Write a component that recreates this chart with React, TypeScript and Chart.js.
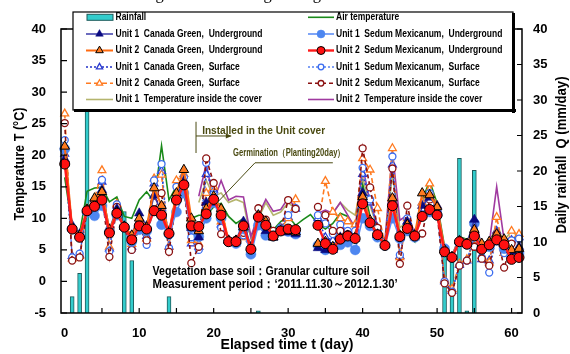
import React, { useEffect, useRef } from 'react';
import { Chart, registerables } from 'chart.js';

Chart.register(...registerables);

const FONT = "'Liberation Sans', Arial, Helvetica, sans-serif";

// ---------- data ----------
const days = [0,1,2,3,4,5,6,7,8,9,10,11,12,13,14,15,16,17,18,19,20,21,22,23,24,25,26,27,28,29,30,31,32,33,34,35,36,37,38,39,40,41,42,43,44,45,46,47,48,49,50,51,52,53,54,55,56,57,58,59,60,61];
const dayTickLabels = [0,10,20,30,40,50,60];
const dayMinorTicks = [5,10,15,20,25,30,35,40,45,50,55,60];
const tempTicks = [-5,0,5,10,15,20,25,30,35,40];
const rainTicks = [0,5,10,15,20,25,30,35,40];

const rainfall = [null,2.3,5.6,35,null,null,null,null,14.3,7.4,null,null,null,null,2.3,null,null,null,null,null,null,null,null,null,null,null,0.3,null,null,null,null,null,null,null,null,null,null,null,null,null,null,null,null,null,null,null,null,null,null,null,null,8.6,8.0,21.8,0.3,20.1,null,null,null,null,null,null];

const airTemp = [16.5,8.6,7.6,14.3,14.8,14.9,12.6,13.4,10.3,10.0,12.9,14.2,12.6,21.5,12.9,15.1,13.5,10.0,10.5,10.5,11.8,12.4,10.3,9.2,10.0,7.3,8.9,9.8,8.2,9.5,10.3,8.9,9.8,10.6,9.1,8.3,9.2,10.8,10.3,8.4,15.5,10.3,7.6,6.0,12.4,7.9,7.6,6.3,12.9,15.9,12.4,5.5,4.0,7.1,6.7,7.5,6.0,6.5,7.6,6.4,6.5,7.4];

const u1CanadaUnder = [19.4,8.9,7.5,11.3,13.0,14.5,8.3,11.5,8.8,7.3,10.8,8.8,13.6,11.0,8.0,13.5,16.0,8.5,7.0,12.5,12.5,11.0,6.5,6.5,9.5,5.5,10.5,8.0,7.0,7.8,7.8,7.5,null,null,5.3,5.0,5.0,7.0,7.3,6.8,14.0,9.5,7.5,5.8,12.5,7.0,9.5,7.5,12.0,13.3,12.0,5.0,3.9,6.5,6.0,9.8,5.8,6.0,7.5,6.5,4.8,5.5];

const u2CanadaUnder = [21.4,8.5,7.3,11.4,13.2,14.2,8.2,11.0,8.7,7.3,10.0,8.6,14.8,12.0,7.8,14.0,17.7,10.0,8.0,11.5,13.5,11.5,6.5,6.5,8.6,5.3,10.5,9.5,7.0,8.0,8.0,7.8,null,null,6.0,6.3,5.5,6.8,7.2,7.0,13.4,9.7,7.4,5.8,13.2,7.3,9.0,7.3,14.0,13.7,11.8,5.0,3.9,6.4,6.0,8.2,6.0,6.3,7.5,6.7,5.0,5.2];

const u1SedumUnder = [21.0,8.3,7.2,11.0,10.4,12.0,7.9,10.5,8.6,6.3,8.2,8.0,11.2,9.0,7.5,11.0,14.0,8.5,7.1,10.0,12.5,10.0,6.3,6.0,8.3,4.3,8.9,7.3,7.2,8.1,7.9,7.5,null,null,5.7,5.0,5.3,5.8,6.2,5.0,10.0,8.8,7.0,5.7,10.0,6.8,8.0,7.0,10.5,11.0,10.5,5.2,3.8,6.2,5.9,9.2,5.2,5.5,6.5,5.2,4.0,4.5];

const u2SedumUnder = [18.6,8.3,7.0,11.2,11.9,12.9,7.7,10.8,8.6,6.6,8.8,8.3,11.2,10.5,7.6,12.9,15.3,8.8,8.7,10.7,13.0,10.5,6.3,6.3,8.8,5.1,10.2,8.9,7.2,8.0,8.3,8.2,null,null,8.9,6.0,5.1,6.7,7.2,6.8,12.3,9.3,7.4,5.7,12.0,7.1,8.4,7.2,10.3,11.4,10.5,4.7,3.8,6.3,5.9,7.2,5.1,5.8,6.6,5.8,3.5,3.8];

const u1CanadaSurf = [20.2,4.0,4.2,11.0,12.5,15.8,5.2,12.0,8.6,5.5,9.2,7.2,15.5,17.5,5.5,13.5,16.0,6.0,5.5,17.0,14.5,9.0,6.5,6.2,9.2,5.5,9.0,8.5,7.0,8.5,10.2,11.5,null,null,10.0,7.0,6.5,8.5,7.5,7.9,17.0,12.5,8.5,5.8,18.5,4.0,9.5,7.0,12.5,13.0,11.5,0.0,-1.5,2.6,3.3,7.0,3.5,3.3,8.0,4.5,6.5,7.0];

const u2CanadaSurf = [26.6,3.6,4.0,11.5,13.0,17.6,5.5,12.3,8.6,5.9,9.5,6.8,16.3,16.9,5.5,16.0,17.0,6.5,6.0,14.0,15.0,9.5,6.5,6.0,7.0,5.5,9.3,8.0,7.8,8.4,10.0,13.0,null,null,8.8,15.9,11.0,10.0,9.5,9.0,19.5,17.7,11.6,5.7,21.1,3.8,10.0,7.0,12.5,15.5,12.0,0.3,-1.2,2.8,3.5,6.5,4.0,3.0,10.2,4.5,8.0,7.5];

const u1SedumSurf = [22.4,3.8,4.4,11.2,12.2,16.1,4.8,12.2,8.6,5.0,9.0,5.8,16.0,18.6,5.3,15.0,16.5,7.0,5.0,18.8,13.8,8.5,6.4,6.3,7.3,5.0,9.6,8.6,7.6,8.5,10.5,11.6,null,null,10.5,9.2,7.5,9.0,8.0,8.0,18.0,13.0,8.0,5.7,19.8,4.2,10.0,7.3,11.5,14.0,11.0,0.0,-1.6,2.5,3.3,7.0,3.8,1.4,7.5,4.5,6.5,6.8];

const u2SedumSurf = [25.1,3.3,3.8,11.3,12.0,14.0,3.9,11.8,8.6,5.0,8.6,6.5,12.5,14.0,4.7,13.0,15.5,2.9,5.5,19.5,15.6,7.5,6.3,6.6,7.7,5.5,11.6,9.8,8.0,8.2,12.9,11.5,null,null,11.8,10.5,8.0,8.0,7.5,7.0,21.1,14.9,8.5,5.9,17.9,2.8,12.0,7.0,7.6,13.0,10.8,-0.3,-1.8,2.5,3.3,5.5,3.6,2.5,7.5,2.2,6.0,5.0];

const u1Inside = [null,null,null,null,null,null,null,null,null,null,null,null,null,null,null,null,null,null,12.5,16.0,13.5,14.0,12.5,13.0,12.5,6.8,10.0,12.5,10.5,11.0,12.5,11.5,null,null,10.0,10.8,10.8,12.5,11.3,10.5,16.5,12.0,8.5,6.0,17.0,8.5,9.5,7.0,12.5,14.5,12.0,5.2,4.2,7.0,6.5,8.0,5.5,6.5,8.5,6.5,8.0,7.0];

const u2Inside = [null,null,null,null,null,null,null,null,null,null,null,null,null,null,null,null,null,null,13.5,18.6,12.8,16.0,12.9,13.5,13.4,7.1,10.5,13.0,11.1,11.4,13.2,11.6,null,null,10.8,11.3,10.8,12.5,10.5,8.5,18.3,12.5,8.9,6.5,20.5,9.7,10.5,7.6,12.0,14.0,11.5,5.0,4.0,7.0,6.5,7.5,5.5,6.0,15.0,6.5,7.0,6.5];

// annotation anchors (in data units)
const installedDay = 17.63;
const installedTopT = 25.3;
const installedBottomT = 20.35;
const installedArrowT = 23.05;
const installedArrowEndDay = 22.3;
const installedTextDay = 18.45;
const installedTextT = 23.9;
const germLeaderFrom = { day: 20.4, t: 12.4 };
const germLeaderTo = { day: 25.55, t: 18.8 };
const germUnderlineEndDay = 36.0;
const germTextDay = 22.6;
const germTextT = 20.3;
const soilTextDay = 11.8;
const soilTextT1 = 1.55;
const soilTextT2 = -0.4;

const mk = (vals: (number | null)[]) => vals.map((v, i) => ({ x: days[i], y: v }));

type Marker = { style: 'circle' | 'triangle' | null; r: number; fill: string; stroke: string; lw: number };

function drawMarker(ctx: CanvasRenderingContext2D, m: Marker, x: number, y: number) {
  if (!m.style) return;
  ctx.beginPath();
  if (m.style === 'circle') {
    ctx.arc(x, y, m.r, 0, Math.PI * 2);
  } else {
    let a = 0;
    ctx.moveTo(x + Math.sin(a) * m.r, y - Math.cos(a) * m.r);
    a += (2 * Math.PI) / 3;
    ctx.lineTo(x + Math.sin(a) * m.r, y - Math.cos(a) * m.r);
    a += (2 * Math.PI) / 3;
    ctx.lineTo(x + Math.sin(a) * m.r, y - Math.cos(a) * m.r);
    ctx.closePath();
  }
  ctx.fillStyle = m.fill;
  ctx.fill();
  if (m.lw > 0) {
    ctx.setLineDash([]);
    ctx.lineWidth = m.lw;
    ctx.strokeStyle = m.stroke;
    ctx.stroke();
  }
}

function fitText(ctx: CanvasRenderingContext2D, text: string, x: number, y: number, width: number, font: string, color: string, align: CanvasTextAlign = 'left', rotate = 0) {
  ctx.save();
  ctx.font = font;
  ctx.fillStyle = color;
  ctx.textBaseline = 'middle';
  ctx.textAlign = align;
  const w = ctx.measureText(text).width;
  const s = width / w;
  ctx.translate(x, y);
  if (rotate) ctx.rotate(rotate);
  ctx.scale(s, 1);
  ctx.fillText(text, 0, 0);
  ctx.restore();
}

type SeriesStyle = { key: string; label: string; color: string; width: number; dash: number[]; marker: Marker };

const S: Record<string, SeriesStyle> = {
  air: { key: 'air', label: 'Air temperature', color: '#1a8a1a', width: 1.6, dash: [], marker: { style: null, r: 0, fill: '', stroke: '', lw: 0 } },
  u1cu: { key: 'u1cu', label: 'Unit 1  Canada Green,  Underground', color: '#3a3aa8', width: 1.5, dash: [], marker: { style: 'triangle', r: 5.5, fill: '#0a0a80', stroke: '#0a0a80', lw: 0.5 } },
  u2cu: { key: 'u2cu', label: 'Unit 2  Canada Green,  Underground', color: '#ff6a10', width: 2, dash: [], marker: { style: 'triangle', r: 5.5, fill: '#ff7a20', stroke: '#000', lw: 1 } },
  u1su: { key: 'u1su', label: 'Unit 1  Sedum Mexicanum,  Underground', color: '#5f8ff5', width: 1.6, dash: [], marker: { style: 'circle', r: 5, fill: '#4d86f0', stroke: '#4d86f0', lw: 0.5 } },
  u2su: { key: 'u2su', label: 'Unit 2  Sedum Mexicanum,  Underground', color: '#ff1a1a', width: 2.4, dash: [], marker: { style: 'circle', r: 5, fill: '#ff1010', stroke: '#000', lw: 1 } },
  u1cs: { key: 'u1cs', label: 'Unit 1  Canada Green,  Surface', color: '#2030c8', width: 1.3, dash: [2, 2], marker: { style: 'triangle', r: 4.5, fill: '#fff', stroke: '#2a3ad0', lw: 1.3 } },
  u2cs: { key: 'u2cs', label: 'Unit 2  Canada Green,  Surface', color: '#ff7a20', width: 1.6, dash: [5, 3], marker: { style: 'triangle', r: 4.5, fill: '#fff', stroke: '#ff7a20', lw: 1.3 } },
  u1ss: { key: 'u1ss', label: 'Unit 1  Sedum Mexicanum,  Surface', color: '#3a6cf0', width: 1.3, dash: [2, 2], marker: { style: 'circle', r: 3.5, fill: '#fff', stroke: '#3a6cf0', lw: 1.3 } },
  u2ss: { key: 'u2ss', label: 'Unit 2  Sedum Mexicanum,  Surface', color: '#8a1010', width: 1.6, dash: [4, 3], marker: { style: 'circle', r: 3.5, fill: '#fff', stroke: '#8a1010', lw: 1.3 } },
  in1: { key: 'in1', label: 'Unit 1  Temperature inside the cover', color: '#b5b56e', width: 1.6, dash: [], marker: { style: null, r: 0, fill: '', stroke: '', lw: 0 } },
  in2: { key: 'in2', label: 'Unit 2  Temperature inside the cover', color: '#a03aa0', width: 1.6, dash: [], marker: { style: null, r: 0, fill: '', stroke: '', lw: 0 } },
};

const RAIN_FILL = '#33cccc';
const RAIN_EDGE = '#1d5a5a';
const ANNOT = '#4a4a12';

function lineDs(st: SeriesStyle, vals: (number | null)[], order: number) {
  return {
    type: 'line' as const,
    label: st.label,
    data: mk(vals),
    yAxisID: 'y',
    borderColor: st.color,
    borderWidth: st.width,
    borderDash: st.dash,
    pointStyle: st.marker.style || 'circle',
    pointRadius: st.marker.style ? st.marker.r : 0,
    pointBackgroundColor: st.marker.fill,
    pointBorderColor: st.marker.stroke,
    pointBorderWidth: st.marker.lw,
    tension: 0,
    spanGaps: false,
    clip: false as any,
    order,
  };
}

const overlayPlugin = {
  id: 'overlay',
  afterDraw(chart: any) {
    const ctx: CanvasRenderingContext2D = chart.ctx;
    const xs = chart.scales.x;
    const yT = chart.scales.y;
    const yR = chart.scales.y2;
    const { left, right, top, bottom } = chart.chartArea;
    const px = (d: number) => xs.getPixelForValue(d);
    const py = (t: number) => yT.getPixelForValue(t);

    ctx.save();
    // top cropped caption from the page
    ctx.save();
    ctx.beginPath();
    ctx.rect(0, 0, 570, 8);
    ctx.clip();
    fitText(ctx, 'water content of ground soils etc greening.', 45, -5, 280, "17px 'Liberation Serif', 'Times New Roman', serif", '#000', 'left');
    ctx.restore();

    // plot frame
    ctx.strokeStyle = '#000';
    ctx.lineWidth = 1.5;
    ctx.setLineDash([]);
    ctx.strokeRect(left, top, right - left, bottom - top);
    ctx.lineWidth = 1.2;
    ctx.beginPath();
    tempTicks.forEach((v) => { const y = py(v); ctx.moveTo(left, y); ctx.lineTo(left + 6, y); });
    rainTicks.forEach((v) => { const y = yR.getPixelForValue(v); ctx.moveTo(right - 5, y); ctx.lineTo(right, y); });
    dayMinorTicks.forEach((v) => { const x = px(v); ctx.moveTo(x, bottom); ctx.lineTo(x, bottom - 5); });
    ctx.stroke();

    // annotation: installed in the unit cover
    ctx.strokeStyle = ANNOT;
    ctx.lineWidth = 1;
    ctx.beginPath();
    ctx.moveTo(px(installedDay), py(installedTopT));
    ctx.lineTo(px(installedDay), py(installedBottomT));
    ctx.moveTo(px(installedDay), py(installedArrowT));
    ctx.lineTo(px(installedArrowEndDay), py(installedArrowT));
    ctx.stroke();
    const ax = px(installedArrowEndDay), ay = py(installedArrowT);
    ctx.beginPath();
    ctx.moveTo(ax + 1, ay);
    ctx.lineTo(ax - 5, ay - 2.5);
    ctx.lineTo(ax - 5, ay + 2.5);
    ctx.closePath();
    ctx.fillStyle = ANNOT;
    ctx.fill();
    fitText(ctx, 'Installed in the Unit cover', px(installedTextDay), py(installedTextT), 123, `bold 11px ${FONT}`, ANNOT, 'left');

    // annotation: germination
    ctx.beginPath();
    ctx.moveTo(px(germLeaderFrom.day), py(germLeaderFrom.t));
    ctx.lineTo(px(germLeaderTo.day), py(germLeaderTo.t));
    ctx.lineTo(px(germUnderlineEndDay), py(germLeaderTo.t));
    ctx.stroke();
    fitText(ctx, 'Germination（Planting20day）', px(germTextDay), py(germTextT), 112, `bold 10px ${FONT}`, ANNOT, 'left');

    // soil text
    fitText(ctx, 'Vegetation base soil：Granular culture soil', px(soilTextDay), py(soilTextT1), 217, `bold 13px ${FONT}`, '#000', 'left');
    fitText(ctx, 'Measurement period：‘2011.11.30～2012.1.30’', px(soilTextDay), py(soilTextT2), 245, `bold 13px ${FONT}`, '#000', 'left');

    // legend box
    const lx = 73, ly = 12, lw = 440, lh = 98;
    ctx.fillStyle = '#fff';
    ctx.fillRect(lx, ly, lw, lh);
    ctx.strokeStyle = '#000';
    ctx.lineWidth = 1.2;
    ctx.strokeRect(lx, ly, lw, lh);
    ctx.fillStyle = '#000';
    ctx.fillRect(lx + lw - 1, ly + 1, 3, lh + 2);
    ctx.fillRect(lx + 1, ly + lh - 1, lw + 2, 3);

    const rows = [17.3, 34.0, 50.5, 67.0, 83.3, 99.5];
    const legendFont = `bold 10px ${FONT}`;
    ctx.font = legendFont;
    const scaleF = 147 / ctx.measureText('Unit 1  Canada Green,  Underground').width;
    const drawLabel = (text: string, x: number, y: number) => {
      ctx.save();
      ctx.font = legendFont;
      ctx.fillStyle = '#000';
      ctx.textBaseline = 'middle';
      ctx.textAlign = 'left';
      ctx.translate(x, y);
      ctx.scale(scaleF, 1);
      ctx.fillText(text, 0, 0);
      ctx.restore();
    };
    const drawSample = (st: SeriesStyle, x1: number, x2: number, y: number) => {
      ctx.save();
      ctx.strokeStyle = st.color;
      ctx.lineWidth = st.width;
      ctx.setLineDash(st.dash);
      ctx.beginPath();
      ctx.moveTo(x1, y);
      ctx.lineTo(x2, y);
      ctx.stroke();
      ctx.setLineDash([]);
      if (st.marker.style) drawMarker(ctx, { ...st.marker, r: st.marker.r * 0.8 }, (x1 + x2) / 2, y);
      ctx.restore();
    };
    // rainfall entry
    ctx.fillStyle = RAIN_FILL;
    ctx.fillRect(87, rows[0] - 3, 26, 6);
    ctx.strokeStyle = RAIN_EDGE;
    ctx.lineWidth = 1;
    ctx.strokeRect(87, rows[0] - 3, 26, 6);
    drawLabel('Rainfall', 115.5, rows[0]);
    const leftCol = [S.u1cu, S.u2cu, S.u1cs, S.u2cs, S.in1];
    leftCol.forEach((st, i) => { drawSample(st, 86, 113, rows[i + 1]); drawLabel(st.label, 115.5, rows[i + 1]); });
    const rightCol = [S.air, S.u1su, S.u2su, S.u1ss, S.u2ss, S.in2];
    rightCol.forEach((st, i) => { drawSample(st, 308, 334, rows[i]); drawLabel(st.label, 336, rows[i]); });

    // axis titles
    fitText(ctx, 'Temperature T (°C)', 20, 164, 113, `bold 14px ${FONT}`, '#000', 'center', -Math.PI / 2);
    fitText(ctx, 'Daily rainfall  Q (mm/day)', 562, 155, 157, `bold 14px ${FONT}`, '#000', 'center', -Math.PI / 2);
    fitText(ctx, 'Elapsed time t (day)', 287, 345, 133, `bold 14px ${FONT}`, '#000', 'center');
    ctx.restore();
  },
};

export default function App() {
  const ref = useRef<HTMLCanvasElement | null>(null);
  useEffect(() => {
    if (!ref.current) return;
    const tickFont = { family: FONT, size: 13, weight: 'bold' as const };
    const chart = new Chart(ref.current, {
      type: 'line',
      data: {
        datasets: [
          lineDs(S.u2su, u2SedumUnder, 0),
          lineDs(S.u2cu, u2CanadaUnder, 1),
          lineDs(S.u1cu, u1CanadaUnder, 2),
          lineDs(S.u1su, u1SedumUnder, 3),
          lineDs(S.u2ss, u2SedumSurf, 4),
          lineDs(S.u1ss, u1SedumSurf, 5),
          lineDs(S.u2cs, u2CanadaSurf, 6),
          lineDs(S.u1cs, u1CanadaSurf, 7),
          lineDs(S.in2, u2Inside, 8),
          lineDs(S.in1, u1Inside, 9),
          lineDs(S.air, airTemp, 10),
          {
            type: 'bar' as const,
            label: 'Rainfall',
            data: mk(rainfall).filter((p) => p.y !== null) as any,
            yAxisID: 'y2',
            backgroundColor: RAIN_FILL,
            borderColor: RAIN_EDGE,
            borderWidth: 1,
            barThickness: 4,
            order: 20,
          } as any,
        ],
      },
      options: {
        responsive: false,
        devicePixelRatio: 1,
        animation: false,
        events: [],
        layout: { padding: { top: 29, left: 0, right: 0, bottom: 0 } },
        plugins: { legend: { display: false }, tooltip: { enabled: false }, title: { display: false } },
        scales: {
          x: {
            type: 'linear',
            min: -0.5,
            max: 61.4,
            offset: false,
            grid: { display: false, drawTicks: false },
            border: { display: false },
            afterBuildTicks: (s: any) => { s.ticks = dayTickLabels.map((v) => ({ value: v })); },
            afterFit: (s: any) => { s.height = 41; },
            ticks: { font: tickFont, color: '#000', padding: 13, maxRotation: 0, autoSkip: false },
          },
          y: {
            type: 'linear',
            position: 'left',
            min: -5,
            max: 40,
            grid: { display: false, drawTicks: false },
            border: { display: false },
            afterBuildTicks: (s: any) => { s.ticks = tempTicks.map((v) => ({ value: v })); },
            afterFit: (s: any) => { s.width = 61; },
            ticks: { font: tickFont, color: '#000', padding: 15 },
          },
          y2: {
            type: 'linear',
            position: 'right',
            min: 0,
            max: 40,
            grid: { display: false, drawTicks: false, drawOnChartArea: false },
            border: { display: false },
            afterBuildTicks: (s: any) => { s.ticks = rainTicks.map((v) => ({ value: v })); },
            afterFit: (s: any) => { s.width = 48; },
            ticks: { font: tickFont, color: '#000', padding: 11 },
          },
        } as any,
      },
      plugins: [overlayPlugin],
    });
    return () => chart.destroy();
  }, []);

  return (
    <div style={{ position: 'fixed', left: 0, top: 0, width: 570, height: 354, background: '#fff' }}>
      <canvas ref={ref} width={570} height={354} style={{ display: 'block' }} />
    </div>
  );
}
